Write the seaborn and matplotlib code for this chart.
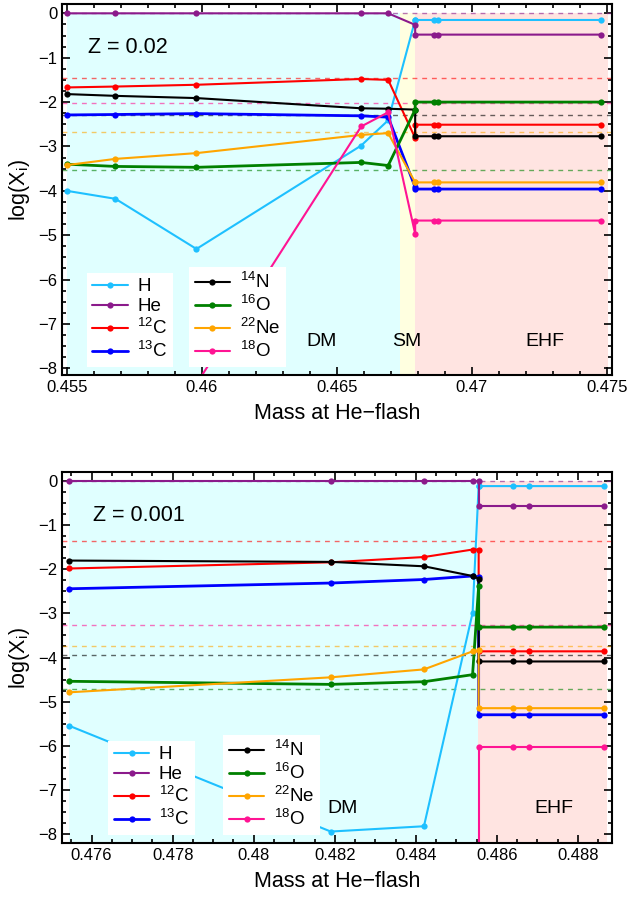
import numpy as np
import pandas as pd
import matplotlib
matplotlib.use("Agg")
import matplotlib.pyplot as plt
from matplotlib.lines import Line2D
from matplotlib.ticker import MultipleLocator, FuncFormatter
import seaborn as sns

# species and colours
species = ['H', 'He', '$^{12}$C', '$^{13}$C', '$^{14}$N', '$^{16}$O', '$^{22}$Ne', '$^{18}$O']
colors = ['#1ec0ff', '#8b1a8b', '#ff0000', '#0000ff', '#000000', '#008000', '#ffa500', '#ff1493']

# ---- Z = 0.02 (top panel) ----
top_mass = [0.455, 0.4568, 0.4598, 0.4659, 0.4669, 0.4679, 0.4679, 0.4686, 0.46875, 0.4748]
top_H    = [-4.00, -4.18, -5.31, -2.98, -2.41, -0.15, -0.15, -0.15, -0.15, -0.15]
top_He   = [0.0, 0.0, 0.0, 0.0, 0.0, -0.26, -0.48, -0.48, -0.48, -0.48]
top_C12  = [-1.67, -1.65, -1.61, -1.48, -1.50, -2.81, -2.51, -2.51, -2.51, -2.51]
top_C13  = [-2.29, -2.28, -2.26, -2.31, -2.34, -3.92, -3.96, -3.96, -3.96, -3.96]
top_N14  = [-1.82, -1.86, -1.91, -2.14, -2.15, -2.17, -2.77, -2.77, -2.77, -2.77]
top_O16  = [-3.40, -3.45, -3.47, -3.36, -3.43, -2.17, -2.00, -2.00, -2.00, -2.00]
top_Ne22 = [-3.42, -3.28, -3.15, -2.74, -2.70, -3.81, -3.81, -3.81, -3.81, -3.81]
top_O18  = [-9.30, -9.00, -8.35, -2.55, -2.23, -4.97, -4.67, -4.67, -4.67, -4.67]
top_ref_vals   = [0.0, -1.45, -2.01, -2.30, -2.68, -3.52]
top_ref_colors = ['#8b1a8b', '#ff0000', '#ff1493', '#000000', '#ffa500', '#008000']

# ---- Z = 0.001 (bottom panel) ----
bot_mass = [0.47545, 0.4819, 0.4842, 0.4854, 0.48555, 0.48555, 0.4864, 0.4868, 0.48865]
bot_H    = [-5.55, -7.95, -7.83, -2.99, -0.11, -0.11, -0.11, -0.11, -0.11]
bot_He   = [0.0, 0.0, 0.0, 0.0, 0.0, -0.56, -0.56, -0.56, -0.56]
bot_C12  = [-1.98, -1.84, -1.72, -1.55, -1.55, -3.86, -3.86, -3.86, -3.86]
bot_C13  = [-2.44, -2.31, -2.23, -2.15, -2.18, -5.30, -5.30, -5.30, -5.30]
bot_N14  = [-1.80, -1.83, -1.93, -2.15, -2.21, -4.09, -4.09, -4.09, -4.09]
bot_O16  = [-4.54, -4.61, -4.55, -4.39, -2.38, -3.31, -3.31, -3.31, -3.31]
bot_Ne22 = [-4.79, -4.45, -4.27, -3.86, -3.84, -5.15, -5.15, -5.15, -5.15]
bot_O18  = [-9.50, -9.50, -9.50, -9.50, -9.50, -6.02, -6.02, -6.02, -6.02]
bot_ref_vals   = [0.0, -1.36, -3.27, -3.73, -3.95, -4.71]
bot_ref_colors = ['#8b1a8b', '#ff0000', '#ff1493', '#ffa500', '#000000', '#008000']

sns.set_style("ticks")
plt.rcParams['font.family'] = ['Liberation Sans', 'DejaVu Sans']
plt.rcParams['mathtext.default'] = 'regular'
plt.rcParams['axes.linewidth'] = 1.5
plt.rcParams['axes.edgecolor'] = 'black'
plt.rcParams['xtick.color'] = 'black'
plt.rcParams['ytick.color'] = 'black'
plt.rcParams['text.color'] = 'black'
plt.rcParams['axes.labelcolor'] = 'black'

fig = plt.figure(figsize=(6.3, 9.01), dpi=100)
ax1 = fig.add_axes([62/630, 1 - 375/901, 550/630, 371/901])
ax2 = fig.add_axes([62/630, 1 - 843/901, 550/630, 371/901])

fmt = FuncFormatter(lambda v, p: f'{v:g}'.replace('-', '\u2212'))


def draw_panel(ax, mass, series, ref_vals, ref_colors, xlim, ylim, spans):
    ax.set_xlim(*xlim)
    ax.set_ylim(*ylim)
    for x0, x1, c in spans:
        ax.fill_between([x0, x1], ylim[0] - 1, 0, color=c, lw=0, zorder=0.5)
    for v, c in zip(ref_vals, ref_colors):
        ax.axhline(v, color=c, ls=(0, (3.5, 3.5)), lw=1.0, alpha=0.6, zorder=1.5)
    for name, ys, c in zip(species, series, colors):
        lw = 2.0 if name in ('$^{13}$C', '$^{16}$O') else 1.5
        sns.lineplot(x=mass, y=ys, color=c, marker='o', markersize=4.5,
                     markeredgewidth=0, lw=lw, estimator=None, sort=False,
                     ax=ax, zorder=2)
    ax.tick_params(which='both', direction='in', top=True, right=True,
                   labelsize=12, width=1.2)
    ax.tick_params(which='major', length=6)
    ax.tick_params(which='minor', length=3)
    ax.yaxis.set_major_locator(MultipleLocator(1))
    ax.yaxis.set_minor_locator(MultipleLocator(0.25))
    ax.xaxis.set_major_formatter(fmt)
    ax.yaxis.set_major_formatter(fmt)
    ax.set_xlabel('Mass at He\u2212flash', fontsize=15.5, labelpad=6)
    ax.set_ylabel('log(X$_i$)', fontsize=15.5, labelpad=4)


def add_legends(ax, x1, x2):
    handles = [Line2D([], [], color=c, marker='o', markersize=4.5, markeredgewidth=0,
                      lw=2.0 if n in ('$^{13}$C', '$^{16}$O') else 1.5)
               for n, c in zip(species, colors)]
    kw = dict(loc='lower left', fontsize=13.5, frameon=True, fancybox=False,
              edgecolor='none', facecolor='white', framealpha=1,
              handlelength=1.9, handletextpad=0.5, labelspacing=0.15,
              borderpad=0.3, borderaxespad=0)
    leg1 = ax.legend(handles[:4], species[:4], bbox_to_anchor=(x1, 0.022), **kw)
    ax.add_artist(leg1)
    ax.legend(handles[4:], species[4:], bbox_to_anchor=(x2, 0.022), **kw)


top_series = [top_H, top_He, top_C12, top_C13, top_N14, top_O16, top_Ne22, top_O18]
draw_panel(ax1, top_mass, top_series, top_ref_vals, top_ref_colors,
           (0.45482, 0.47519), (-8.15, 0.21),
           [(0.455, 0.46733, '#e0ffff'), (0.46733, 0.4679, '#ffffe0'),
            (0.4679, 0.47504, '#ffe4e1')])
ax1.xaxis.set_major_locator(MultipleLocator(0.005))
ax1.xaxis.set_minor_locator(MultipleLocator(0.001))
ax1.text(0.45578, -0.78, 'Z = 0.02', fontsize=15.5, va='center', ha='left')
ax1.text(0.46444, -7.40, 'DM', fontsize=14, ha='center', va='center')
ax1.text(0.46759, -7.40, 'SM', fontsize=14, ha='center', va='center')
ax1.text(0.4727, -7.40, 'EHF', fontsize=14, ha='center', va='center')
add_legends(ax1, 0.045, 0.231)

bot_series = [bot_H, bot_He, bot_C12, bot_C13, bot_N14, bot_O16, bot_Ne22, bot_O18]
draw_panel(ax2, bot_mass, bot_series, bot_ref_vals, bot_ref_colors,
           (0.47527, 0.48884), (-8.21, 0.21),
           [(0.47545, 0.48553, '#e0ffff'), (0.48553, 0.48871, '#ffe4e1')])
ax2.xaxis.set_major_locator(MultipleLocator(0.002))
ax2.xaxis.set_minor_locator(MultipleLocator(0.0005))
ax2.text(0.47604, -0.77, 'Z = 0.001', fontsize=15.5, va='center', ha='left')
ax2.text(0.48219, -7.43, 'DM', fontsize=14, ha='center', va='center')
ax2.text(0.48741, -7.43, 'EHF', fontsize=14, ha='center', va='center')
add_legends(ax2, 0.084, 0.293)

fig.savefig('out.png', dpi=100)
